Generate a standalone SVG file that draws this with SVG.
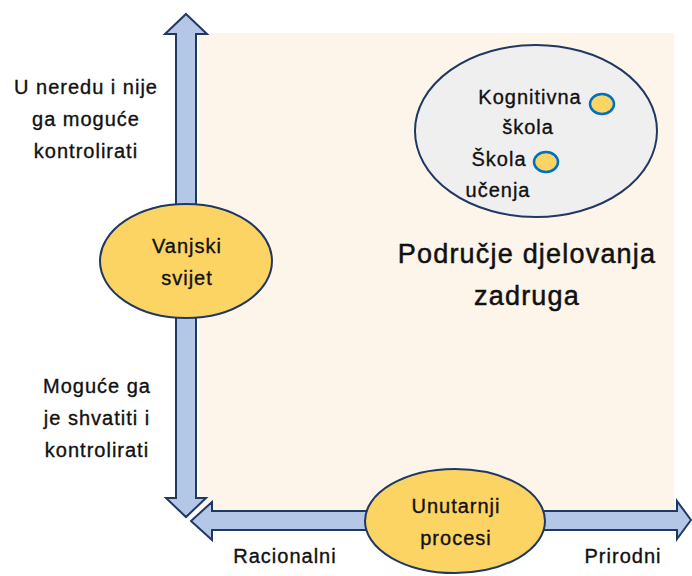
<svg xmlns="http://www.w3.org/2000/svg" width="692" height="576" viewBox="0 0 692 576">
<style>
.t{font-family:"Liberation Sans",Arial,sans-serif;font-size:20px;letter-spacing:1px;fill:#111111;stroke:#111111;stroke-width:0.35px;text-anchor:middle}
.big{font-size:27px;letter-spacing:1.2px;stroke-width:0.5px}
.arrow{fill:#b4c7e7;stroke:#1f3864;stroke-width:2;stroke-linejoin:miter}
.yel{fill:#fcd463;stroke:#1f3864;stroke-width:2}
.dot{fill:#fcd463;stroke:#0070c0;stroke-width:2.5}
</style>
<rect x="0" y="0" width="692" height="576" fill="#ffffff"/>
<rect id="field" x="199" y="33" width="475" height="479" fill="#fdf5e9"/>
<g id="connectors">
<polygon class="arrow" points="186,14 207,34 196,34 196,498 206,498 186,517 166,498 176,498 176,34 165,34"/>
<polygon class="arrow" points="191,521 212,502 212,511 677,511 677,501 691,520 677,539 677,530 212,530 212,540"/>
</g>
<g id="area">
<ellipse cx="536" cy="131" rx="121" ry="86" fill="#efefef" stroke="#1f3864" stroke-width="2"/>
<text class="t big" x="527" y="263">Područje djelovanja</text>
<text class="t big" x="527" y="305">zadruga</text>
</g>
<g id="kognitivna">
<text class="t" x="530" y="104">Kognitivna</text>
<text class="t" x="528" y="134">škola</text>
<ellipse class="dot" cx="602" cy="104" rx="12" ry="10"/>
</g>
<g id="skola-ucenja">
<text class="t" x="499" y="166">Škola</text>
<text class="t" x="498" y="197">učenja</text>
<ellipse class="dot" cx="546" cy="162" rx="12" ry="10"/>
</g>
<g id="vanjski">
<ellipse class="yel" cx="186" cy="261" rx="86" ry="57"/>
<text class="t" x="187" y="253">Vanjski</text>
<text class="t" x="187" y="285">svijet</text>
</g>
<g id="unutarnji">
<ellipse class="yel" cx="455" cy="521" rx="90" ry="52"/>
<text class="t" x="456" y="513">Unutarnji</text>
<text class="t" x="456" y="545">procesi</text>
</g>
<g id="top-label">
<text class="t" x="86" y="94">U neredu i nije</text>
<text class="t" x="86" y="126">ga moguće</text>
<text class="t" x="86" y="158">kontrolirati</text>
</g>
<g id="bottom-label">
<text class="t" x="97" y="393">Moguće ga</text>
<text class="t" x="97" y="425">je shvatiti i</text>
<text class="t" x="97" y="457">kontrolirati</text>
</g>
<g id="x-labels">
<text class="t" x="285" y="563">Racionalni</text>
<text class="t" x="623" y="563">Prirodni</text>
</g>
</svg>
